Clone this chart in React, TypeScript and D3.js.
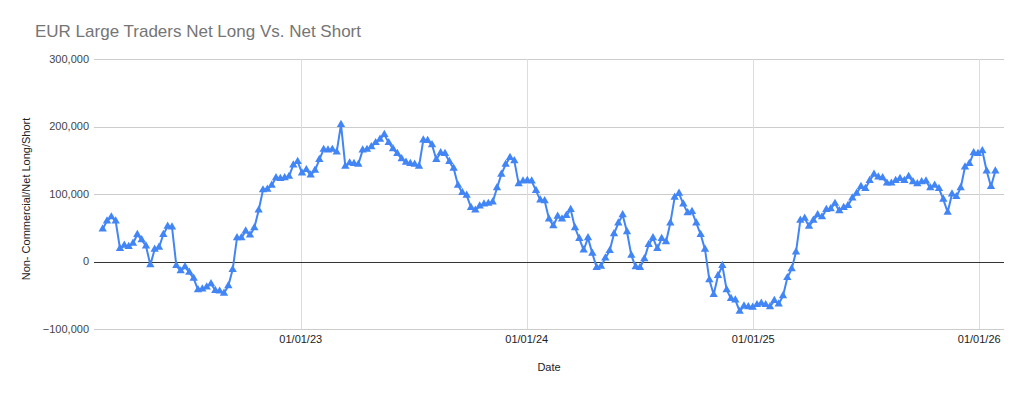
import React from "react";
import * as d3 from "d3";

// Weekly COT report values (thousands of contracts, net long/short)
const netPositionK: number[] = [
  48, 60, 66, 60, 19, 24, 22, 27, 40, 32,
  23, -5, 18, 21, 40, 52, 51, -6, -14, -8,
  -16, -25, -42, -41, -38, -33, -43, -44, -47, -36,
  -12, 35, 35, 45, 39, 50, 76, 106, 107, 113,
  124, 123, 124, 126, 143, 148, 131, 136, 128, 135,
  151, 166, 165, 166, 162, 203, 141, 146, 145, 144,
  165, 166, 170, 176, 181, 188, 176, 167, 160, 152,
  147, 145, 144, 141, 180, 179, 173, 151, 161, 160,
  148, 138, 113, 102, 98, 80, 76, 82, 85, 86,
  88, 109, 129, 144, 154, 149, 115, 119, 120, 119,
  105, 91, 90, 63, 53, 67, 63, 68, 77, 50,
  34, 17, 35, 12, -9, -7, 5, 16, 41, 57,
  69, 44, 9, -8, -9, 4, 25, 35, 19, 34,
  29, 57, 95, 101, 85, 72, 74, 57, 40, 18,
  -27, -49, -21, -6, -42, -55, -57, -74, -66, -67,
  -68, -64, -62, -64, -67, -58, -63, -51, -24, -11,
  14, 61, 64, 52, 61, 69, 66, 77, 78, 86,
  75, 80, 83, 94, 101, 111, 108, 120, 129, 125,
  124, 116, 116, 120, 123, 120, 126, 118, 115, 118,
  119, 109, 113, 108, 92, 73, 100, 96, 109, 140,
  145, 161, 160, 164, 134, 111, 134,
];
const firstReportDate = new Date(2022, 1, 15);
const dates: Date[] = netPositionK.map((_, i) => d3.timeDay.offset(firstReportDate, 7 * i));
const values: number[] = netPositionK.map((v) => v * 1000);

const yTicks: number[] = [-100000, 0, 100000, 200000, 300000];
const xTickDates: Date[] = [new Date(2023, 0, 1), new Date(2024, 0, 1), new Date(2025, 0, 1), new Date(2026, 0, 1)];
const xTickLabels: string[] = ["01/01/23", "01/01/24", "01/01/25", "01/01/26"];

const title = "EUR Large Traders Net Long Vs. Net Short";
const yTitle = "Non- Commercial/Net Long/Short";
const xTitle = "Date";

export default function App() {
  const W = 1024;
  const H = 393;
  const left = 94;
  const right = 1004;
  const top = 59;
  const bottom = 329;
  const font = "Arial, 'Liberation Sans', sans-serif";

  const x = d3.scaleTime().domain([new Date(2022, 1, 1), new Date(2026, 1, 10)]).range([left, right]);
  const y = d3.scaleLinear().domain([-100000, 300000]).range([bottom, top]);
  const fmt = d3.format(",");

  const line = d3
    .line<number>()
    .x((_, i) => x(dates[i]))
    .y((d) => y(d));
  const tri = d3.symbol().type(d3.symbolTriangle).size(30)();

  return (
    <svg
      width={W}
      height={H}
      style={{ position: "absolute", left: 0, top: 0, background: "#fff" }}
      fontFamily={font}
    >
      <rect x={0} y={0} width={W} height={H} fill="#fff" />
      <text x={35} y={37} fontSize={17} fill="#757575">
        {title}
      </text>
      {yTicks.map((t) => (
        <g key={t}>
          {t !== 0 && (
            <line x1={left} x2={right} y1={Math.round(y(t)) + 0.5} y2={Math.round(y(t)) + 0.5} stroke="#cccccc" />
          )}
          <text x={89} y={y(t)} dy="0.35em" textAnchor="end" fontSize={11} fill="#444">
            {fmt(t)}
          </text>
        </g>
      ))}
      {xTickDates.map((d, i) => (
        <g key={i}>
          <line x1={Math.round(x(d)) + 0.5} x2={Math.round(x(d)) + 0.5} y1={top} y2={bottom} stroke="#dddddd" />
          <text x={x(d)} y={339} dy="0.35em" textAnchor="middle" fontSize={11} fill="#222">
            {xTickLabels[i]}
          </text>
        </g>
      ))}
      <line x1={left} x2={right} y1={Math.round(y(0)) + 0.5} y2={Math.round(y(0)) + 0.5} stroke="#333333" />
      <path d={line(values) || ""} fill="none" stroke="#4285f4" strokeWidth={2} strokeLinejoin="round" />
      {values.map((v, i) => (
        <path key={i} d={tri || ""} transform={`translate(${x(dates[i])},${y(v)})`} fill="#4285f4" />
      ))}
      <text x={549} y={367} dy="0.35em" textAnchor="middle" fontSize={11} fill="#222">
        {xTitle}
      </text>
      <text
        transform={`translate(26,${(top + bottom) / 2 + 5}) rotate(-90)`}
        dy="0.35em"
        textAnchor="middle"
        fontSize={11}
        fill="#222"
      >
        {yTitle}
      </text>
    </svg>
  );
}
